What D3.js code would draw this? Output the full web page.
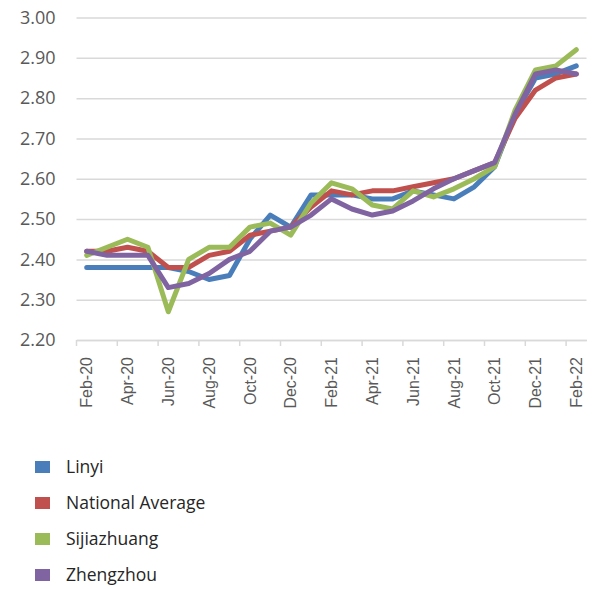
<!DOCTYPE html>
<html>
<head>
<meta charset="utf-8">
<script src="https://cdn.jsdelivr.net/npm/d3@7"></script>
<style>
  body { margin: 0; background: #fff; }
  #chart { width: 600px; height: 589px; }
  .y-axis text { font-family: "Open Sans", sans-serif; font-size: 18px; fill: #595959; }
  .x-axis text { font-family: "Liberation Sans", Arial, sans-serif; font-size: 16px; fill: #595959; }
  .legend text { font-family: "Open Sans", sans-serif; font-size: 17.5px; fill: #262626; }
</style>
</head>
<body>
<div id="chart"></div>
<script>
// Months on the category axis
const months = ["Feb-20", "Mar-20", "Apr-20", "May-20", "Jun-20", "Jul-20", "Aug-20", "Sep-20",
    "Oct-20", "Nov-20", "Dec-20", "Jan-21", "Feb-21", "Mar-21", "Apr-21", "May-21", "Jun-21",
    "Jul-21", "Aug-21", "Sep-21", "Oct-21", "Nov-21", "Dec-21", "Jan-22", "Feb-22"];

// Series values
const linyi = [2.38, 2.38, 2.38, 2.38, 2.38, 2.37, 2.35, 2.36, 2.45, 2.51, 2.48, 2.56, 2.56,
    2.56, 2.55, 2.55, 2.57, 2.56, 2.55, 2.58, 2.63, 2.76, 2.85, 2.86, 2.88];
const nationalAverage = [2.42, 2.42, 2.43, 2.42, 2.38, 2.38, 2.41, 2.42, 2.46, 2.47, 2.48, 2.53, 2.57,
    2.56, 2.57, 2.57, 2.58, 2.59, 2.60, 2.62, 2.64, 2.75, 2.82, 2.85, 2.86];
const sijiazhuang = [2.41, 2.43, 2.45, 2.43, 2.27, 2.40, 2.43, 2.43, 2.48, 2.49, 2.46, 2.54, 2.59,
    2.575, 2.535, 2.525, 2.57, 2.555, 2.575, 2.60, 2.63, 2.77, 2.87, 2.88, 2.92];
const zhengzhou = [2.42, 2.41, 2.41, 2.41, 2.33, 2.34, 2.365, 2.40, 2.42, 2.47, 2.48, 2.51, 2.55,
    2.525, 2.51, 2.52, 2.545, 2.575, 2.60, 2.62, 2.64, 2.76, 2.86, 2.87, 2.86];

const yTicks = [2.20, 2.30, 2.40, 2.50, 2.60, 2.70, 2.80, 2.90, 3.00];

const series = [
    { name: "Linyi", values: linyi, color: "#4a7ebb" },
    { name: "National Average", values: nationalAverage, color: "#c0504d" },
    { name: "Sijiazhuang", values: sijiazhuang, color: "#9bbb59" },
    { name: "Zhengzhou", values: zhengzhou, color: "#8064a2" }
];

const svg = d3.select("#chart")
    .append("svg")
    .attr("width", 600)
    .attr("height", 589);

// Scales
const xScale = d3.scaleBand().domain(months).range([76.5, 586.5]);
const yScale = d3.scaleLinear().domain([2.2, 3.0]).range([340, 17.5]);

// Gridlines + y labels
const yAxis = svg.append("g")
    .attr("class", "y-axis")
    .attr("transform", "translate(586.5, 0)")
    .call(d3.axisLeft(yScale)
        .tickValues(yTicks)
        .tickSize(510)
        .tickPadding(21)
        .tickFormat(d3.format(".2f")));
yAxis.select(".domain").remove();
yAxis.selectAll("line").attr("stroke", "#d9d9d9").attr("stroke-width", 1.5);

// X axis labels (every other month)
const xAxis = svg.append("g")
    .attr("class", "x-axis")
    .attr("transform", "translate(0, 340)")
    .call(d3.axisBottom(xScale)
        .tickValues(months.filter((d, i) => i % 2 === 0))
        .tickSize(0));
xAxis.select(".domain").attr("stroke", "#d9d9d9").attr("stroke-width", 1.5);
xAxis.selectAll("text")
    .attr("transform", "rotate(-90)")
    .attr("text-anchor", "end")
    .attr("x", -17)
    .attr("y", 0)
    .attr("dy", "0.35em");

// Tick marks between categories
xAxis.selectAll(".cat-tick")
    .data(months.filter((d, i) => i % 2 === 0))
    .enter()
    .append("line")
    .attr("class", "cat-tick")
    .attr("x1", d => xScale(d))
    .attr("x2", d => xScale(d))
    .attr("y1", 0)
    .attr("y2", 6)
    .attr("stroke", "#d9d9d9")
    .attr("stroke-width", 1.5);

// Lines
const line = d3.line()
    .x((d, i) => xScale(months[i]) + xScale.bandwidth() / 2)
    .y(d => yScale(d));

svg.selectAll(".series")
    .data(series)
    .enter()
    .append("path")
    .attr("class", "series")
    .attr("d", d => line(d.values))
    .attr("fill", "none")
    .attr("stroke", d => d.color)
    .attr("stroke-width", 5)
    .attr("stroke-linejoin", "round")
    .attr("stroke-linecap", "round");

// Legend
const legend = svg.append("g")
    .attr("class", "legend")
    .selectAll("g")
    .data(series)
    .enter()
    .append("g")
    .attr("transform", (d, i) => `translate(35, ${467 + i * 36})`);

legend.append("rect")
    .attr("x", 0)
    .attr("y", -6)
    .attr("width", 15)
    .attr("height", 12)
    .attr("fill", d => d.color);

legend.append("text")
    .attr("x", 31)
    .attr("y", 0)
    .attr("dy", "0.35em")
    .text(d => d.name);
</script>
</body>
</html>
